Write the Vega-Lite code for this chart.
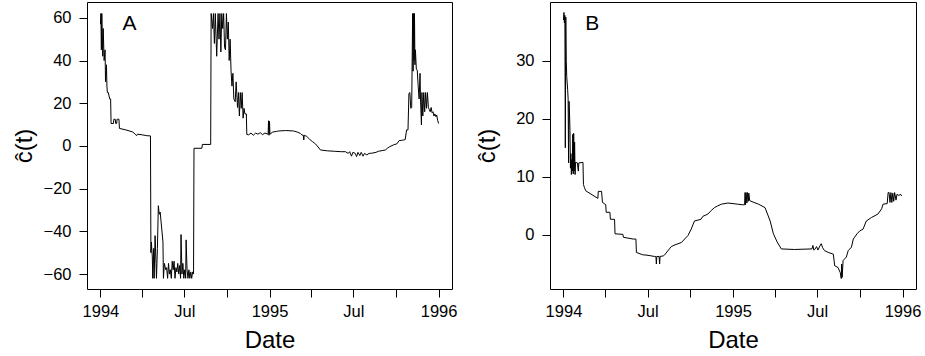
{
  "$schema": "https://vega.github.io/schema/vega-lite/v6.json",
  "background": "white",
  "padding": {"left": 11, "top": 1, "right": 0, "bottom": 0},
  "spacing": 16,
  "datasets": {
    "A": [
      {"date":"1994-01-01","c":57},{"date":"1994-01-02","c":62},{"date":"1994-01-03","c":45},{"date":"1994-01-04","c":62},
      {"date":"1994-01-06","c":42},{"date":"1994-01-07","c":55},{"date":"1994-01-09","c":40},{"date":"1994-01-11","c":45},
      {"date":"1994-01-12","c":30},{"date":"1994-01-14","c":38},{"date":"1994-01-15","c":28},{"date":"1994-01-16","c":25},
      {"date":"1994-01-18","c":25},{"date":"1994-01-21","c":22},{"date":"1994-01-23","c":22},{"date":"1994-01-24","c":10.5},
      {"date":"1994-01-29","c":10.5},{"date":"1994-01-30","c":12.5},{"date":"1994-02-02","c":12.5},{"date":"1994-02-03","c":10.5},
      {"date":"1994-02-05","c":10.5},{"date":"1994-02-06","c":12.5},{"date":"1994-02-10","c":12.5},{"date":"1994-02-11","c":8.2},
      {"date":"1994-02-25","c":7.5},{"date":"1994-03-12","c":6.5},{"date":"1994-03-17","c":5.5},{"date":"1994-03-20","c":4.8},
      {"date":"1994-03-22","c":5.5},{"date":"1994-04-01","c":5.2},{"date":"1994-04-11","c":4.8},{"date":"1994-04-19","c":4.7},
      {"date":"1994-04-20","c":-50},{"date":"1994-04-21","c":-45},{"date":"1994-04-23","c":-52},{"date":"1994-04-24","c":-62},
      {"date":"1994-04-26","c":-48},{"date":"1994-04-27","c":-62},{"date":"1994-04-29","c":-42},{"date":"1994-05-01","c":-55},
      {"date":"1994-05-02","c":-62},{"date":"1994-05-04","c":-48},{"date":"1994-05-06","c":-28},{"date":"1994-05-08","c":-32},
      {"date":"1994-05-10","c":-31},{"date":"1994-05-13","c":-38},{"date":"1994-05-16","c":-45},{"date":"1994-05-17","c":-62},
      {"date":"1994-05-19","c":-55},{"date":"1994-05-22","c":-58},{"date":"1994-05-24","c":-57},{"date":"1994-05-26","c":-62},
      {"date":"1994-05-28","c":-55},{"date":"1994-05-30","c":-60},{"date":"1994-06-01","c":-58},{"date":"1994-06-03","c":-62},
      {"date":"1994-06-05","c":-54},{"date":"1994-06-07","c":-58},{"date":"1994-06-09","c":-54},{"date":"1994-06-11","c":-62},
      {"date":"1994-06-13","c":-57},{"date":"1994-06-15","c":-59},{"date":"1994-06-17","c":-55},{"date":"1994-06-19","c":-60},
      {"date":"1994-06-21","c":-56},{"date":"1994-06-23","c":-62},{"date":"1994-06-24","c":-41.5},{"date":"1994-06-26","c":-60},
      {"date":"1994-06-28","c":-55},{"date":"1994-06-30","c":-62},{"date":"1994-07-02","c":-58},{"date":"1994-07-04","c":-62},
      {"date":"1994-07-05","c":-44},{"date":"1994-07-07","c":-58},{"date":"1994-07-09","c":-62},{"date":"1994-07-11","c":-58},
      {"date":"1994-07-13","c":-62},{"date":"1994-07-15","c":-59},{"date":"1994-07-17","c":-62},{"date":"1994-07-19","c":-59},
      {"date":"1994-07-21","c":-60},{"date":"1994-07-22","c":-1.1},{"date":"1994-08-08","c":-1.1},{"date":"1994-08-09","c":0.7},
      {"date":"1994-08-27","c":0.7},{"date":"1994-08-28","c":62},{"date":"1994-08-31","c":55},{"date":"1994-09-02","c":62},
      {"date":"1994-09-04","c":48},{"date":"1994-09-06","c":62},{"date":"1994-09-09","c":42},{"date":"1994-09-12","c":62},
      {"date":"1994-09-14","c":50},{"date":"1994-09-16","c":62},{"date":"1994-09-18","c":44},{"date":"1994-09-20","c":62},
      {"date":"1994-09-22","c":55},{"date":"1994-09-24","c":62},{"date":"1994-09-26","c":46},{"date":"1994-09-28","c":45},
      {"date":"1994-09-30","c":62},{"date":"1994-10-02","c":50},{"date":"1994-10-04","c":58},{"date":"1994-10-06","c":40},
      {"date":"1994-10-08","c":50},{"date":"1994-10-10","c":35},{"date":"1994-10-12","c":28},{"date":"1994-10-14","c":34},
      {"date":"1994-10-16","c":22},{"date":"1994-10-19","c":20.7},{"date":"1994-10-21","c":30},{"date":"1994-10-24","c":18},
      {"date":"1994-10-26","c":25},{"date":"1994-10-28","c":14},{"date":"1994-10-30","c":25},{"date":"1994-11-01","c":17.6},
      {"date":"1994-11-03","c":25},{"date":"1994-11-05","c":13},{"date":"1994-11-07","c":17.6},{"date":"1994-11-09","c":15},
      {"date":"1994-11-12","c":15},{"date":"1994-11-13","c":5.4},{"date":"1994-11-17","c":5.2},{"date":"1994-11-22","c":6},
      {"date":"1994-11-27","c":5},{"date":"1994-12-02","c":6},{"date":"1994-12-07","c":5.5},{"date":"1994-12-12","c":6.2},
      {"date":"1994-12-17","c":5.3},{"date":"1994-12-22","c":6},{"date":"1994-12-29","c":5.5},{"date":"1994-12-30","c":11.8},
      {"date":"1994-12-31","c":5},{"date":"1995-01-01","c":11.5},{"date":"1995-01-02","c":5.5},{"date":"1995-01-08","c":6.5},
      {"date":"1995-01-16","c":6.8},{"date":"1995-01-21","c":7},{"date":"1995-02-05","c":7.2},{"date":"1995-02-22","c":7},
      {"date":"1995-03-02","c":6.5},{"date":"1995-03-09","c":5.8},{"date":"1995-03-12","c":5.1},{"date":"1995-03-15","c":5},
      {"date":"1995-03-16","c":2.8},{"date":"1995-03-17","c":5},{"date":"1995-03-22","c":4.5},{"date":"1995-03-27","c":3.5},
      {"date":"1995-03-30","c":2.8},{"date":"1995-04-04","c":2},{"date":"1995-04-10","c":1},{"date":"1995-04-16","c":-0.5},
      {"date":"1995-04-21","c":-1.9},{"date":"1995-05-06","c":-2.3},{"date":"1995-05-21","c":-2.5},{"date":"1995-06-05","c":-2.7},
      {"date":"1995-06-14","c":-2.7},{"date":"1995-06-20","c":-3.5},{"date":"1995-06-23","c":-2.7},{"date":"1995-06-27","c":-4.8},
      {"date":"1995-06-30","c":-3},{"date":"1995-07-05","c":-3.5},{"date":"1995-07-08","c":-5},{"date":"1995-07-11","c":-3},
      {"date":"1995-07-15","c":-4.5},{"date":"1995-07-18","c":-3},{"date":"1995-07-22","c":-4.8},{"date":"1995-07-25","c":-3.5},
      {"date":"1995-07-30","c":-4.2},{"date":"1995-08-04","c":-3.5},{"date":"1995-08-10","c":-3.4},{"date":"1995-08-19","c":-3},
      {"date":"1995-08-24","c":-2.5},{"date":"1995-09-01","c":-2.2},{"date":"1995-09-08","c":-1.9},{"date":"1995-09-13","c":-1},
      {"date":"1995-09-18","c":-0.3},{"date":"1995-09-26","c":0.5},{"date":"1995-10-03","c":1},{"date":"1995-10-08","c":2.5},
      {"date":"1995-10-13","c":2.6},{"date":"1995-10-18","c":2.8},{"date":"1995-10-21","c":3},{"date":"1995-10-24","c":7.5},
      {"date":"1995-10-27","c":7.5},{"date":"1995-10-29","c":24.6},{"date":"1995-10-31","c":25},{"date":"1995-11-02","c":17.6},
      {"date":"1995-11-04","c":18},{"date":"1995-11-06","c":62},{"date":"1995-11-07","c":35},{"date":"1995-11-08","c":62},
      {"date":"1995-11-09","c":40},{"date":"1995-11-10","c":62},{"date":"1995-11-11","c":38},{"date":"1995-11-12","c":45},
      {"date":"1995-11-14","c":36},{"date":"1995-11-16","c":35.5},{"date":"1995-11-18","c":28},{"date":"1995-11-20","c":22},
      {"date":"1995-11-22","c":34},{"date":"1995-11-23","c":22},{"date":"1995-11-25","c":9.8},{"date":"1995-11-26","c":25},
      {"date":"1995-11-28","c":14},{"date":"1995-11-30","c":25},{"date":"1995-12-02","c":16},{"date":"1995-12-04","c":25},
      {"date":"1995-12-06","c":17.6},{"date":"1995-12-08","c":25},{"date":"1995-12-10","c":18},{"date":"1995-12-12","c":17},
      {"date":"1995-12-14","c":16},{"date":"1995-12-16","c":18},{"date":"1995-12-18","c":15.5},{"date":"1995-12-20","c":16},
      {"date":"1995-12-22","c":14},{"date":"1995-12-24","c":15},{"date":"1995-12-26","c":13.7},{"date":"1995-12-28","c":14.5},
      {"date":"1995-12-30","c":12},{"date":"1996-01-01","c":10.5}
    ],
    "B": [
      {"date":"1994-01-01","c":37},{"date":"1994-01-02","c":38.3},{"date":"1994-01-03","c":36.5},{"date":"1994-01-04","c":37.8},
      {"date":"1994-01-05","c":15},{"date":"1994-01-06","c":37.5},{"date":"1994-01-07","c":30},{"date":"1994-01-08","c":27.3},
      {"date":"1994-01-10","c":25},{"date":"1994-01-11","c":23.5},{"date":"1994-01-12","c":12.4},{"date":"1994-01-13","c":23},
      {"date":"1994-01-14","c":21},{"date":"1994-01-15","c":18},{"date":"1994-01-16","c":11.5},{"date":"1994-01-17","c":14},
      {"date":"1994-01-18","c":10.4},{"date":"1994-01-19","c":13},{"date":"1994-01-20","c":11},{"date":"1994-01-21","c":17.3},
      {"date":"1994-01-22","c":10.5},{"date":"1994-01-23","c":17.5},{"date":"1994-01-24","c":11},{"date":"1994-01-25","c":16},
      {"date":"1994-01-26","c":10.4},{"date":"1994-01-27","c":12.5},{"date":"1994-01-31","c":12.4},{"date":"1994-02-02","c":11},
      {"date":"1994-02-03","c":12.4},{"date":"1994-02-12","c":12.5},{"date":"1994-02-13","c":8.7},{"date":"1994-02-15","c":8.2},
      {"date":"1994-02-18","c":7.6},{"date":"1994-03-16","c":6.3},{"date":"1994-03-17","c":7.5},{"date":"1994-03-24","c":7.5},
      {"date":"1994-03-26","c":5.6},{"date":"1994-04-02","c":5.2},{"date":"1994-04-03","c":3.9},{"date":"1994-04-11","c":3.9},
      {"date":"1994-04-12","c":2.7},{"date":"1994-04-21","c":2.7},{"date":"1994-04-22","c":0.2},{"date":"1994-05-09","c":0.1},
      {"date":"1994-05-10","c":-0.4},{"date":"1994-05-31","c":-0.7},{"date":"1994-06-06","c":-0.7},{"date":"1994-06-07","c":-3.0},
      {"date":"1994-06-20","c":-3.4},{"date":"1994-07-02","c":-3.5},{"date":"1994-07-16","c":-3.7},{"date":"1994-07-19","c":-3.7},
      {"date":"1994-07-20","c":-5},{"date":"1994-07-21","c":-3.7},{"date":"1994-07-26","c":-3.7},{"date":"1994-07-27","c":-5},
      {"date":"1994-07-28","c":-3.7},{"date":"1994-08-04","c":-3.6},{"date":"1994-08-06","c":-3.5},{"date":"1994-08-17","c":-2.4},
      {"date":"1994-08-21","c":-2.0},{"date":"1994-08-29","c":-1.7},{"date":"1994-09-12","c":-1.3},{"date":"1994-09-20","c":-0.6},
      {"date":"1994-09-26","c":-0.1},{"date":"1994-10-03","c":1},{"date":"1994-10-10","c":2.4},{"date":"1994-10-24","c":2.7},
      {"date":"1994-10-28","c":3.2},{"date":"1994-11-08","c":3.6},{"date":"1994-11-15","c":4.2},{"date":"1994-11-22","c":4.7},
      {"date":"1994-11-29","c":5.0},{"date":"1994-12-07","c":5.3},{"date":"1994-12-21","c":5.5},{"date":"1995-01-01","c":5.4},
      {"date":"1995-01-11","c":5.3},{"date":"1995-01-21","c":5.2},{"date":"1995-01-26","c":5.2},{"date":"1995-01-27","c":7.3},
      {"date":"1995-01-28","c":5.2},{"date":"1995-01-29","c":7.3},{"date":"1995-01-31","c":5.5},{"date":"1995-02-01","c":7.3},
      {"date":"1995-02-03","c":5.8},{"date":"1995-02-04","c":7.2},{"date":"1995-02-06","c":5.9},{"date":"1995-02-15","c":5.6},
      {"date":"1995-02-25","c":5.3},{"date":"1995-03-11","c":4.7},{"date":"1995-03-22","c":2.4},{"date":"1995-03-29","c":0.2},
      {"date":"1995-04-06","c":-1.2},{"date":"1995-04-15","c":-2.4},{"date":"1995-05-13","c":-2.5},{"date":"1995-06-20","c":-2.4},
      {"date":"1995-06-22","c":-1.8},{"date":"1995-06-24","c":-2.6},{"date":"1995-06-26","c":-2.5},{"date":"1995-06-30","c":-2.0},
      {"date":"1995-07-03","c":-2.6},{"date":"1995-07-07","c":-1.9},{"date":"1995-07-10","c":-1.5},{"date":"1995-07-13","c":-2.2},
      {"date":"1995-07-17","c":-2.7},{"date":"1995-07-25","c":-3.0},{"date":"1995-08-05","c":-3.3},{"date":"1995-08-08","c":-5.3},
      {"date":"1995-08-15","c":-5.6},{"date":"1995-08-20","c":-6.5},{"date":"1995-08-22","c":-7.5},{"date":"1995-08-23","c":-5},
      {"date":"1995-08-24","c":-7.3},{"date":"1995-08-26","c":-4.4},{"date":"1995-09-02","c":-3.8},{"date":"1995-09-06","c":-2.7},
      {"date":"1995-09-13","c":-2.1},{"date":"1995-09-17","c":-0.7},{"date":"1995-09-25","c":0.2},{"date":"1995-10-01","c":0.7},
      {"date":"1995-10-08","c":1.0},{"date":"1995-10-15","c":2.4},{"date":"1995-10-26","c":3.0},{"date":"1995-11-09","c":3.6},
      {"date":"1995-11-17","c":4.5},{"date":"1995-11-20","c":5.3},{"date":"1995-11-29","c":5.4},{"date":"1995-12-01","c":7.3},
      {"date":"1995-12-03","c":7.3},{"date":"1995-12-05","c":5.6},{"date":"1995-12-07","c":7.3},{"date":"1995-12-09","c":5.6},
      {"date":"1995-12-11","c":7.2},{"date":"1995-12-13","c":5.8},{"date":"1995-12-15","c":7.3},{"date":"1995-12-18","c":6},
      {"date":"1995-12-20","c":7},{"date":"1995-12-24","c":6.8},{"date":"1995-12-28","c":7},{"date":"1995-12-30","c":6.7}
    ]
  },
  "hconcat": [
    {
      "width": 365,
      "height": 287,
      "layer": [
        {
          "data": {"name": "A"},
          "mark": {"type": "line", "color": "black", "strokeWidth": 1, "clip": true},
          "encoding": {
            "x": {"field": "date", "type": "temporal", "title": "Date",
              "scale": {"type": "utc", "domain": [{"year": 1993, "month": 12, "date": 3, "utc": true}, {"year": 1996, "month": 1, "date": 30, "utc": true}]},
              "axis": {"values": [
                {"year": 1994, "month": 1, "date": 1, "utc": true}, {"year": 1994, "month": 4, "date": 1, "utc": true},
                {"year": 1994, "month": 7, "date": 1, "utc": true}, {"year": 1994, "month": 10, "date": 1, "utc": true},
                {"year": 1995, "month": 1, "date": 1, "utc": true}, {"year": 1995, "month": 4, "date": 1, "utc": true},
                {"year": 1995, "month": 7, "date": 1, "utc": true}, {"year": 1995, "month": 10, "date": 1, "utc": true},
                {"year": 1996, "month": 1, "date": 1, "utc": true}],
                "labelExpr": "utcmonth(datum.value) == 0 ? utcFormat(datum.value, '%Y') : (utcmonth(datum.value) == 6 ? 'Jul' : '')",
                "titleY": 58.7, "titleBaseline": "alphabetic", "labelPadding": 6}},
            "y": {"field": "c", "type": "quantitative", "title": "ĉ(t)",
              "scale": {"domain": [-67, 67.4], "nice": false, "zero": false},
              "axis": {"values": [-60, -40, -20, 0, 20, 40, 60], "titleX": -51, "labelPadding": 8}}
          }
        },
        {
          "data": {"values": [{"date": "1994-03-05", "c": 54.3, "label": "A"}]},
          "mark": {"type": "text", "fontSize": 21, "font": "Liberation Sans", "baseline": "alphabetic", "align": "center", "color": "black"},
          "encoding": {
            "x": {"field": "date", "type": "temporal"},
            "y": {"field": "c", "type": "quantitative"},
            "text": {"field": "label"}
          }
        }
      ]
    },
    {
      "width": 366,
      "height": 287,
      "layer": [
        {
          "data": {"name": "B"},
          "mark": {"type": "line", "color": "black", "strokeWidth": 1, "clip": true},
          "encoding": {
            "x": {"field": "date", "type": "temporal", "title": "Date",
              "scale": {"type": "utc", "domain": [{"year": 1993, "month": 12, "date": 3, "utc": true}, {"year": 1996, "month": 1, "date": 30, "utc": true}]},
              "axis": {"values": [
                {"year": 1994, "month": 1, "date": 1, "utc": true}, {"year": 1994, "month": 4, "date": 1, "utc": true},
                {"year": 1994, "month": 7, "date": 1, "utc": true}, {"year": 1994, "month": 10, "date": 1, "utc": true},
                {"year": 1995, "month": 1, "date": 1, "utc": true}, {"year": 1995, "month": 4, "date": 1, "utc": true},
                {"year": 1995, "month": 7, "date": 1, "utc": true}, {"year": 1995, "month": 10, "date": 1, "utc": true},
                {"year": 1996, "month": 1, "date": 1, "utc": true}],
                "labelExpr": "utcmonth(datum.value) == 0 ? utcFormat(datum.value, '%Y') : (utcmonth(datum.value) == 6 ? 'Jul' : '')",
                "titleY": 58.7, "titleBaseline": "alphabetic", "labelPadding": 6}},
            "y": {"field": "c", "type": "quantitative", "title": "ĉ(t)",
              "scale": {"domain": [-9.3, 40.1], "nice": false, "zero": false},
              "axis": {"values": [0, 10, 20, 30], "titleX": -51, "labelPadding": 8}}
          }
        },
        {
          "data": {"values": [{"date": "1994-03-04", "c": 35.3, "label": "B"}]},
          "mark": {"type": "text", "fontSize": 21, "font": "Liberation Sans", "baseline": "alphabetic", "align": "center", "color": "black"},
          "encoding": {
            "x": {"field": "date", "type": "temporal"},
            "y": {"field": "c", "type": "quantitative"},
            "text": {"field": "label"}
          }
        }
      ]
    }
  ],
  "config": {
    "view": {"stroke": "black", "strokeWidth": 1},
    "axis": {
      "domain": false, "grid": false,
      "ticks": true, "tickColor": "black", "tickSize": 8, "tickWidth": 1,
      "labelFont": "Liberation Sans", "labelFontSize": 16.5, "labelColor": "black",
      "labelFlush": false, "labelOverlap": false,
      "titleFont": "Liberation Sans", "titleFontSize": 24, "titleFontWeight": "normal", "titleColor": "black"
    }
  }
}
